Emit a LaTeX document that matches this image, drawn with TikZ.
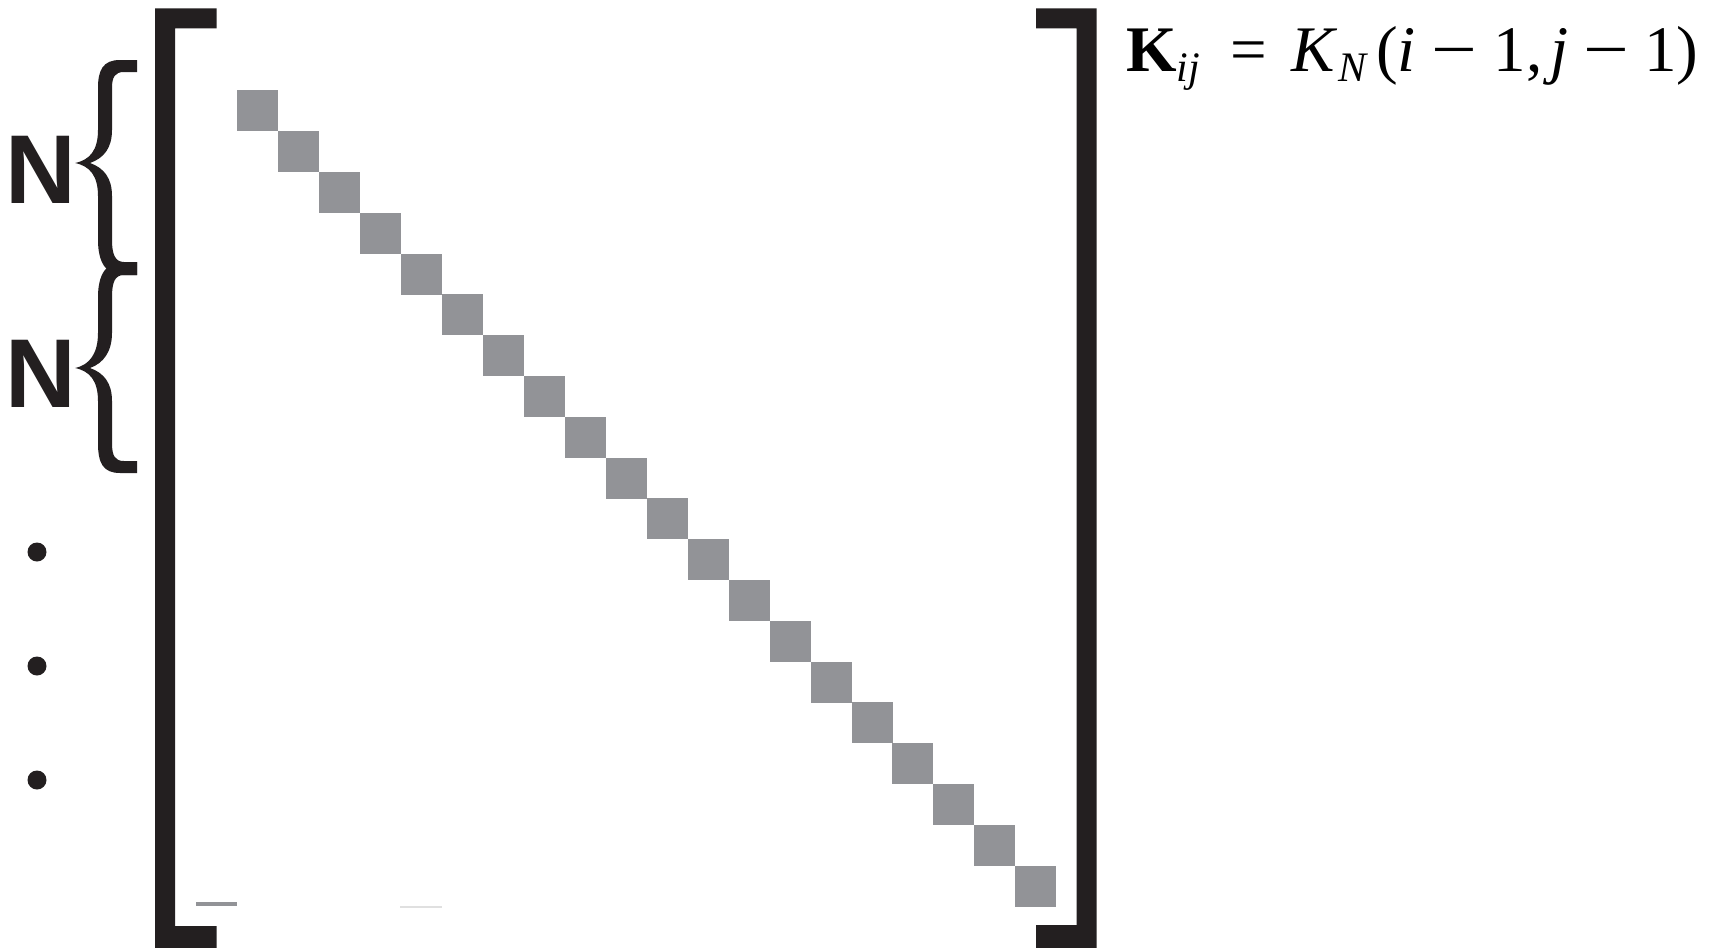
\documentclass[tikz,border=0pt]{standalone}
\usepackage{fontspec}
\usepackage{graphicx}
\setmainfont{Liberation Serif}
\newfontfamily\labelfont{Liberation Sans}
\definecolor{brk}{HTML}{231F20}
\definecolor{sqgray}{HTML}{929397}
\newcommand{\subsz}{\fontsize{21pt}{24pt}\selectfont\itshape}
\newcommand{\mminus}{\scalebox{1.25}[1]{−}}
\begin{document}
\begin{tikzpicture}[x=0.5pt,y=-0.5pt,
  sq/.style={fill=sqgray, draw=none, minimum size=20.5pt, inner sep=0pt, anchor=north west},
  brk/.style={fill=brk, draw=none},
  lbl/.style={font=\labelfont\bfseries\fontsize{48.9pt}{56pt}\selectfont, text=brk, inner sep=0pt, anchor=base west},
  dotn/.style={circle, fill=brk, draw=none, minimum size=9.5pt, inner sep=0pt},
  fml/.style={font=\fontsize{32.5pt}{39pt}\selectfont, text=black, inner sep=0pt, anchor=base west}]
\useasboundingbox (0,0) rectangle (1714,948);
\fill[white] (0,0) rectangle (1714,948);
% left bracket
\fill[brk] (155,8.3) -- (216.7,8.3) -- (216.7,28.3) -- (175,28.3) -- (175,926) -- (216.7,926) -- (216.7,948) -- (155,948) -- cycle;
% right bracket
\fill[brk] (1036,8.3) -- (1096.7,8.3) -- (1096.7,948) -- (1036,948) -- (1036,925) -- (1076.7,925) -- (1076.7,28.3) -- (1036,28.3) -- cycle;
% diagonal squares
\foreach \k in {0,...,19} \node[sq] (s\k) at ({236.7+40.96*\k},{90+40.8*\k}) {};
% braces
\fill[brk] (137,60) -- (120,60) .. controls (103,60) and (98,70) .. (98,88) -- (98,130)
  .. controls (98,150) and (90,160) .. (75,163)
  .. controls (90,166) and (98,176) .. (98,196) -- (98,240)
  .. controls (98,262) and (106,275) .. (122,275) -- (137,275) -- (137,262) -- (124,262)
  .. controls (115,262) and (112,254) .. (112,240) -- (112,196)
  .. controls (112,178) and (104,168) .. (90,163)
  .. controls (104,158) and (112,148) .. (112,130) -- (112,88)
  .. controls (112,77) and (115,72) .. (124,72) -- (137,72) -- cycle;
\fill[brk] (137,262) -- (122,262) .. controls (106,262) and (98,275) .. (98,297) -- (98,333)
  .. controls (98,353) and (90,365) .. (75,368)
  .. controls (90,371) and (98,381) .. (98,401) -- (98,443)
  .. controls (98,463) and (103,473) .. (120,473) -- (137,473) -- (137,461) -- (124,461)
  .. controls (115,461) and (112,456) .. (112,443) -- (112,401)
  .. controls (112,383) and (104,373) .. (90,368)
  .. controls (104,363) and (112,351) .. (112,333) -- (112,297)
  .. controls (112,282) and (115,275) .. (124,275) -- (137,275) -- cycle;
% labels
\node[lbl] (n1) at (5,203) {N};
\node[lbl] (n2) at (5,407) {N};
% vertical dots
\node[dotn] (d1) at (37,552) {};
\node[dotn] (d2) at (37,666) {};
\node[dotn] (d3) at (37,780) {};
% small marks at bottom
\draw[sqgray, line width=2pt] (196,904) -- (237,904);
\draw[black!12, line width=0.8pt] (400,907) -- (442,907);
% formula
\node[fml] (f) at (1126,71.7) {\textbf{K}\raisebox{-5pt}{\subsz ij}\hspace{15pt}=\hspace{12.5pt}\textit{K}\raisebox{-5pt}{\subsz N}\hspace{5pt}(\textit{i}\hspace{8pt}\mminus\hspace{8pt}1,\hspace{4pt}\textit{j}\hspace{7.5pt}\mminus\hspace{7.5pt}1)};
\end{tikzpicture}
\end{document}
